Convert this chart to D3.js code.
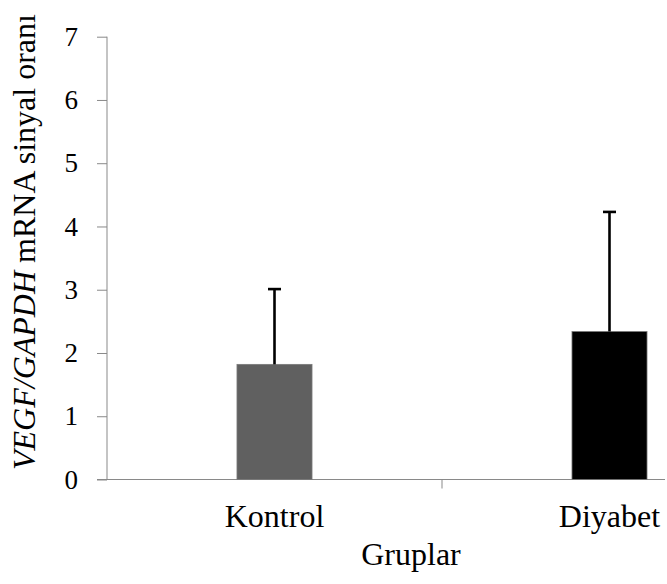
<!DOCTYPE html>
<html>
<head>
<meta charset="utf-8">
<script src="https://cdn.jsdelivr.net/npm/d3@7"></script>
<style>
  body { margin: 0; background: #fff; }
  svg { display: block; font-family: "Liberation Serif", "Times New Roman", serif; }
</style>
</head>
<body>
<div id="chart"></div>
<script>
let groups = ["Kontrol", "Diyabet"];
let means = [1.82, 2.34];
let errors = [1.19, 1.89];
let yTicks = [0, 1, 2, 3, 4, 5, 6, 7];
let fills = ["#606060", "#000000"];

let width = 667,
    height = 584;

let axisColor = "#898989";
let serif = "'Liberation Serif', 'Times New Roman', serif";

let svg = d3.select("#chart")
    .append("svg")
    .attr("width", width)
    .attr("height", height);

let y = d3.scaleLinear()
    .domain([0, 7])
    .range([479.5, 36.7]);

// slots run past the right edge, the original is cropped there
let x = d3.scaleBand()
    .domain(groups)
    .range([107, 777])
    .paddingInner(0.776)
    .paddingOuter(0.388);

let step = x.step();

// y axis
let yAxis = svg.append("g")
    .attr("transform", "translate(107,0)")
    .call(d3.axisLeft(y).tickValues(yTicks).tickSize(10).tickPadding(19).tickFormat(d3.format("d")))
    .attr("font-family", serif)
    .attr("font-size", 27);
yAxis.select(".domain").attr("stroke", axisColor).attr("d", "M0," + y(7) + "V" + y(0));
yAxis.selectAll(".tick line").attr("stroke", axisColor);
yAxis.selectAll(".tick text").attr("fill", "#000");

// x axis line + slot separators
svg.append("line")
    .attr("x1", 97).attr("x2", width - 2)
    .attr("y1", y(0)).attr("y2", y(0))
    .attr("stroke", axisColor);

svg.selectAll(".sep")
    .data([x.range()[0] + step])
    .enter()
    .append("line")
    .attr("class", "sep")
    .attr("x1", d => d).attr("x2", d => d)
    .attr("y1", y(0)).attr("y2", y(0) + 9)
    .attr("stroke", axisColor);

// bars
svg.selectAll(".bar")
    .data(groups)
    .enter()
    .append("rect")
    .attr("class", "bar")
    .attr("x", d => x(d))
    .attr("y", (d, i) => y(means[i]))
    .attr("width", x.bandwidth())
    .attr("height", (d, i) => y(0) - y(means[i]))
    .attr("fill", (d, i) => fills[i])
    .attr("stroke", "#7a7a7a")
    .attr("stroke-width", 0.8);

// error bars
let eb = svg.selectAll(".err")
    .data(groups)
    .enter()
    .append("g")
    .attr("class", "err");

eb.append("line")
    .attr("x1", d => x(d) + x.bandwidth() / 2)
    .attr("x2", d => x(d) + x.bandwidth() / 2)
    .attr("y1", (d, i) => y(means[i]))
    .attr("y2", (d, i) => y(means[i] + errors[i]))
    .attr("stroke", "#000")
    .attr("stroke-width", 2.6);

eb.append("line")
    .attr("x1", d => x(d) + x.bandwidth() / 2 - 6.5)
    .attr("x2", d => x(d) + x.bandwidth() / 2 + 6.5)
    .attr("y1", (d, i) => y(means[i] + errors[i]))
    .attr("y2", (d, i) => y(means[i] + errors[i]))
    .attr("stroke", "#000")
    .attr("stroke-width", 2.6);

// category labels
svg.selectAll(".cat")
    .data(groups)
    .enter()
    .append("text")
    .attr("class", "cat")
    .attr("x", d => x(d) + x.bandwidth() / 2)
    .attr("y", 527)
    .attr("text-anchor", "middle")
    .style("font-size", "32px")
    .text(d => d);

// axis titles
svg.append("text")
    .attr("x", 411)
    .attr("y", 565)
    .attr("text-anchor", "middle")
    .style("font-size", "32px")
    .text("Gruplar");

let yt = svg.append("text")
    .attr("transform", "translate(35,470) rotate(-90)")
    .attr("text-anchor", "start")
    .style("font-size", "32px");
yt.append("tspan").style("font-style", "italic").text("VEGF/GAPDH");
yt.append("tspan").text(" mRNA sinyal oranı");
</script>
</body>
</html>
